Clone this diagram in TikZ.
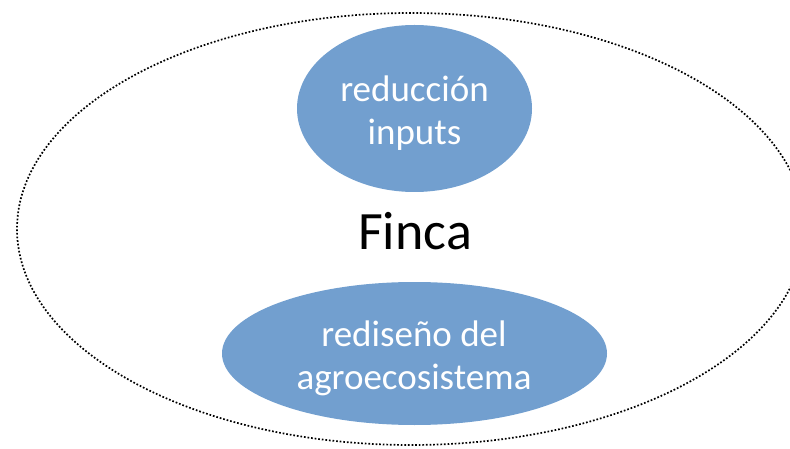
\documentclass[tikz,border=0pt]{standalone}
\usepackage{fontspec}
\setmainfont{Carlito}
\usetikzlibrary{shapes.geometric}
\definecolor{blobblue}{RGB}{114,159,207}
\tikzset{
  blob/.style={ellipse, fill=blobblue, draw=none, inner sep=0pt, outer sep=0pt},
  farm/.style={ellipse, draw=black, line width=1.7pt, dash pattern=on 1.7pt off 1.9pt, inner sep=0pt},
  blobtext/.style={align=center, text=white, font=\fontsize{37}{43}\selectfont, inner sep=0pt},
  farmtext/.style={text=black, font=\fontsize{54}{60}\selectfont, inner sep=0pt}
}
\begin{document}
\begin{tikzpicture}[x=1pt,y=-1pt]
  \useasboundingbox (0,0) rectangle (790,449);
  \clip (0,0) rectangle (790,449);
  \node[farm, minimum width=788pt, minimum height=432pt] (outer) at (411,229) {};
  \node[blob, minimum width=235pt, minimum height=167pt] (top) at (414.5,108.5) {};
  \node[blob, minimum width=385pt, minimum height=143pt] (bottom) at (414.5,353.5) {};
  \node[blobtext, anchor=base] (toptext) at (414.5,145) {reducción\\inputs};
  \node[blobtext, anchor=base] (bottomtext) at (414,389) {rediseño del\\agroecosistema};
  \node[farmtext, anchor=base] (finca) at (415,250) {Finca};
\end{tikzpicture}
\end{document}
